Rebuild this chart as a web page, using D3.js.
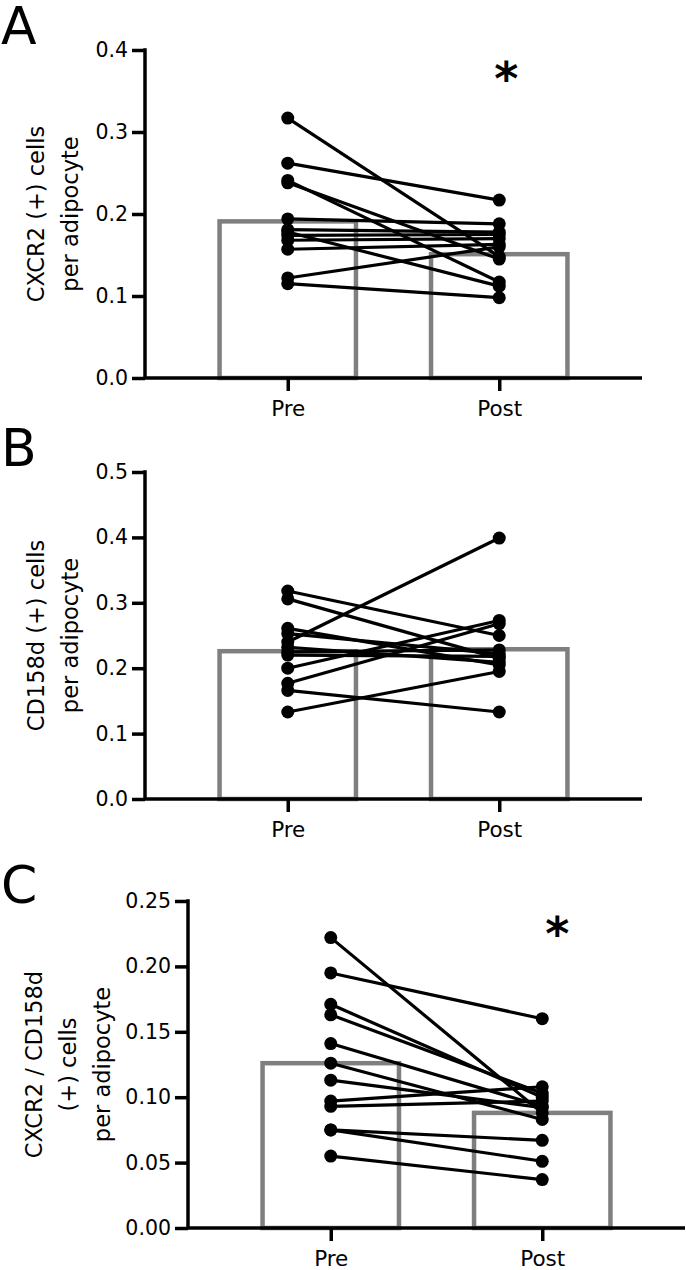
<!DOCTYPE html>
<html>
<head>
<meta charset="utf-8">
<script src="https://cdn.jsdelivr.net/npm/d3@7"></script>
<style>
  html, body { margin: 0; padding: 0; background: #fff; }
  svg { display: block; }
</style>
</head>
<body>
<div id="chart"></div>
<script>
// group labels
const groups = ["Pre", "Post"];

// panel A: CXCR2 (+) cells per adipocyte
const cxcr2Pre  = [0.317, 0.262, 0.241, 0.238, 0.194, 0.181, 0.178, 0.174, 0.168, 0.157, 0.122, 0.115];
const cxcr2Post = [0.148, 0.217, 0.117, 0.145, 0.188, 0.178, 0.112, 0.175, 0.170, 0.163, 0.160, 0.098];
const cxcr2Means = [0.191, 0.151];
const cxcr2Ticks = [0, 0.1, 0.2, 0.3, 0.4];

// panel B: CD158d (+) cells per adipocyte
const cd158dPre  = [0.318, 0.306, 0.261, 0.253, 0.240, 0.232, 0.225, 0.220, 0.200, 0.177, 0.166, 0.133];
const cd158dPost = [0.250, 0.215, 0.205, 0.222, 0.399, 0.209, 0.228, 0.218, 0.273, 0.268, 0.133, 0.195];
const cd158dMeans = [0.226, 0.229];
const cd158dTicks = [0, 0.1, 0.2, 0.3, 0.4, 0.5];

// panel C: CXCR2 / CD158d (+) cells per adipocyte
const dualPre  = [0.222, 0.195, 0.171, 0.163, 0.141, 0.126, 0.113, 0.097, 0.093, 0.075, 0.075, 0.055];
const dualPost = [0.088, 0.160, 0.100, 0.103, 0.093, 0.083, 0.092, 0.108, 0.097, 0.067, 0.051, 0.037];
const dualMeans = [0.126, 0.088];
const dualTicks = [0, 0.05, 0.10, 0.15, 0.20, 0.25];

const width = 686, height = 1270;
const font = "'DejaVu Sans', Verdana, sans-serif";

const svg = d3.select("#chart").append("svg")
  .attr("width", width)
  .attr("height", height)
  .attr("font-family", font);

function drawPanel(p) {
  const g = svg.append("g");

  const y = d3.scaleLinear()
    .domain([0, d3.max(p.ticks)])
    .range([p.bottom, p.top]);

  const x = d3.scalePoint()
    .domain(groups)
    .range([p.left, p.left + 497])
    .padding(0.675);

  const barW = x.step() * 0.645;

  // bars (means)
  g.selectAll(".bar")
    .data(groups.map((k, i) => ({ k, v: p.means[i] })))
    .join("rect")
    .attr("class", "bar")
    .attr("x", d => x(d.k) - barW / 2)
    .attr("y", d => y(d.v))
    .attr("width", barW)
    .attr("height", d => y(0) - y(d.v))
    .attr("fill", "none")
    .attr("stroke", "#7f7f7f")
    .attr("stroke-width", 4.5);

  // paired lines
  const pairs = p.pre.map((v, i) => [v, p.post[i]]);
  g.selectAll(".pair")
    .data(pairs)
    .join("line")
    .attr("class", "pair")
    .attr("x1", x("Pre"))
    .attr("x2", x("Post"))
    .attr("y1", d => y(d[0]))
    .attr("y2", d => y(d[1]))
    .attr("stroke", "#000")
    .attr("stroke-width", 3.2);

  const pts = [];
  pairs.forEach(d => {
    pts.push({ k: "Pre", v: d[0] });
    pts.push({ k: "Post", v: d[1] });
  });
  g.selectAll(".dot")
    .data(pts)
    .join("circle")
    .attr("class", "dot")
    .attr("cx", d => x(d.k))
    .attr("cy", d => y(d.v))
    .attr("r", 6.5)
    .attr("fill", "#000");

  // y axis
  const yAxis = g.append("g")
    .attr("transform", `translate(${p.left},0)`)
    .call(d3.axisLeft(y).tickValues(p.ticks).tickFormat(d3.format(p.fmt)).tickSize(13).tickPadding(4));

  // x axis
  const xAxis = g.append("g")
    .attr("transform", `translate(0,${p.bottom})`)
    .call(d3.axisBottom(x).tickSize(13).tickPadding(10));

  [yAxis, xAxis].forEach(a => {
    a.select(".domain").attr("stroke", "#000").attr("stroke-width", 3.5);
    a.selectAll(".tick line").attr("stroke", "#000").attr("stroke-width", 3.5);
    a.selectAll(".tick text").attr("fill", "#000").attr("font-family", font);
  });
  yAxis.selectAll(".tick text").attr("font-size", 20.5);
  xAxis.selectAll(".tick text").attr("font-size", 21.5);
  // flat domain ends
  yAxis.select(".domain").attr("d", `M0,${p.top - 1.75}V${p.bottom}`);
  xAxis.select(".domain").attr("d", `M${p.left},0H${p.left + 497}`);

  // y title
  const cy = (p.top + p.bottom) / 2;
  const title = g.append("text")
    .attr("transform", `translate(${p.titleX},${cy}) rotate(-90)`)
    .attr("text-anchor", "middle")
    .attr("font-size", 22.5)
    .attr("fill", "#000");
  p.title.forEach((t, i) => {
    title.append("tspan")
      .attr("x", 0)
      .attr("dy", i === 0 ? 0 : 34)
      .text(t);
  });

  // panel letter
  g.append("text")
    .attr("x", 1)
    .attr("y", p.letterY)
    .attr("font-size", 52)
    .attr("fill", "#000")
    .text(p.letter);

  if (p.star) {
    g.append("text")
      .attr("x", x("Post") + p.starDx)
      .attr("y", p.top + p.starDy)
      .attr("text-anchor", "middle")
      .attr("font-size", 46)
      .attr("font-weight", "bold")
      .attr("fill", "#000")
      .text("*");
  }
}

drawPanel({
  letter: "A", letterY: 44, top: 50, bottom: 378, left: 145,
  pre: cxcr2Pre, post: cxcr2Post, means: cxcr2Means, ticks: cxcr2Ticks, fmt: ".1f",
  title: ["CXCR2 (+) cells", "per adipocyte"], titleX: 44, star: true, starDx: 7, starDy: 45
});

drawPanel({
  letter: "B", letterY: 466, top: 472, bottom: 799, left: 145,
  pre: cd158dPre, post: cd158dPost, means: cd158dMeans, ticks: cd158dTicks, fmt: ".1f",
  title: ["CD158d (+) cells", "per adipocyte"], titleX: 44, star: false
});

drawPanel({
  letter: "C", letterY: 903, top: 901, bottom: 1228, left: 188,
  pre: dualPre, post: dualPost, means: dualMeans, ticks: dualTicks, fmt: ".2f",
  title: ["CXCR2 / CD158d", "(+) cells", "per adipocyte"], titleX: 42, star: true, starDx: 15, starDy: 49
});
</script>
</body>
</html>
